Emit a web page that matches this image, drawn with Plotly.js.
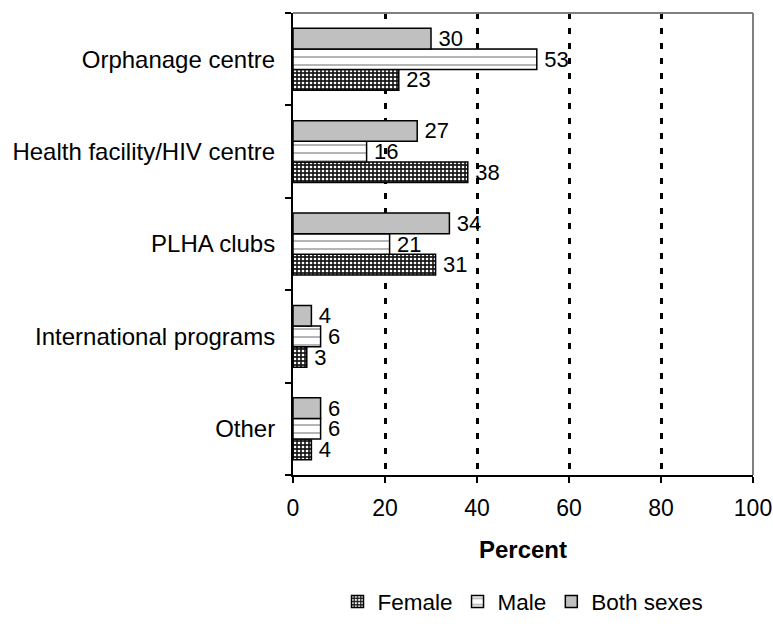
<!DOCTYPE html>
<html>
<head>
<meta charset="utf-8">
<script src="https://cdn.plot.ly/plotly-3.0.1.min.js"></script>
<style>html,body{margin:0;padding:0;background:#fff;}#chart{width:773px;height:627px;}</style>
</head>
<body>
<div id="chart"></div>
<script>
// Categories listed top-to-bottom as in the chart
const categories = ['Orphanage centre', 'Health facility/HIV centre', 'PLHA clubs', 'International programs', 'Other'];
const female = [23, 38, 31, 3, 4];
const male = [53, 16, 21, 6, 6];
const bothSexes = [30, 27, 34, 4, 6];
const seriesNames = ['Female', 'Male', 'Both sexes'];
const xTicks = [0, 20, 40, 60, 80, 100];

const FONT = 'Arial, "Liberation Sans", sans-serif';
const FS = 24;
const common = {
  type: 'bar', orientation: 'h', y: categories,
  texttemplate: '\u2009%{x}', textposition: 'outside', cliponaxis: false,
  constraintext: 'none',
  textfont: {family: FONT, size: 22, color: '#000'},
  hoverinfo: 'x+name'
};
const traces = [
  Object.assign({}, common, {
    name: seriesNames[0], x: female,
    marker: {color: '#1a1a1a', line: {color: '#000', width: 1.5},
      pattern: {shape: '.', bgcolor: '#1a1a1a', fgcolor: '#ffffff', size: 4, solidity: 0.35, fillmode: 'replace'}}
  }),
  Object.assign({}, common, {
    name: seriesNames[1], x: male,
    marker: {color: '#ffffff', line: {color: '#000', width: 1.5},
      pattern: {shape: '-', bgcolor: '#ffffff', fgcolor: '#b5b5b5', size: 8, solidity: 0.25, fillmode: 'replace'}}
  }),
  Object.assign({}, common, {
    name: seriesNames[2], x: bothSexes,
    marker: {color: '#c0c0c0', line: {color: '#000', width: 1.5}}
  })
];

const layout = {
  width: 773, height: 627,
  margin: {l: 293, r: 20, t: 13, b: 152, autoexpand: false},
  paper_bgcolor: '#fff', plot_bgcolor: '#fff',
  font: {family: FONT, size: FS, color: '#000'},
  barmode: 'group', bargap: 0.33, bargroupgap: 0,
  showlegend: true,
  legend: {orientation: 'h', x: 0.5, xanchor: 'center', yref: 'container', y: 0.04, yanchor: 'middle',
    bgcolor: 'rgba(0,0,0,0)',
    font: {family: FONT, size: 22.5, color: '#000'}, itemwidth: 30, traceorder: 'normal'},
  xaxis: {
    range: [0, 100], tickvals: xTicks, ticktext: xTicks.map(String),
    showgrid: true, gridcolor: '#000', gridwidth: 3, griddash: '6px,9px',
    zeroline: false, showline: true, linecolor: '#000', linewidth: 2,
    ticks: 'outside', ticklen: 6, tickwidth: 2, tickcolor: '#000',
    tickfont: {family: FONT, size: 23, color: '#000'},
    ticklabelstandoff: 5,
    title: {text: '<b>Percent</b>', font: {family: FONT, size: FS, color: '#000'}, standoff: 22},
    fixedrange: true
  },
  yaxis: {
    type: 'category', categoryorder: 'array', categoryarray: categories.slice().reverse(),
    showline: true, linecolor: '#000', linewidth: 2,
    ticks: 'outside', tickson: 'boundaries', ticklen: 6, tickwidth: 2, tickcolor: '#000',
    showgrid: false, zeroline: false,
    tickfont: {family: FONT, size: FS, color: '#000'},
    ticklabelstandoff: 11,
    fixedrange: true
  },
  shapes: [
    {type: 'line', xref: 'paper', yref: 'paper', x0: 0, x1: 1, y0: 1, y1: 1, line: {color: '#808080', width: 2}},
    {type: 'line', xref: 'paper', yref: 'paper', x0: 1, x1: 1, y0: 0, y1: 1, line: {color: '#808080', width: 2}}
  ]
};

Plotly.newPlot('chart', traces, layout, {displayModeBar: false, staticPlot: true});
</script>
</body>
</html>
